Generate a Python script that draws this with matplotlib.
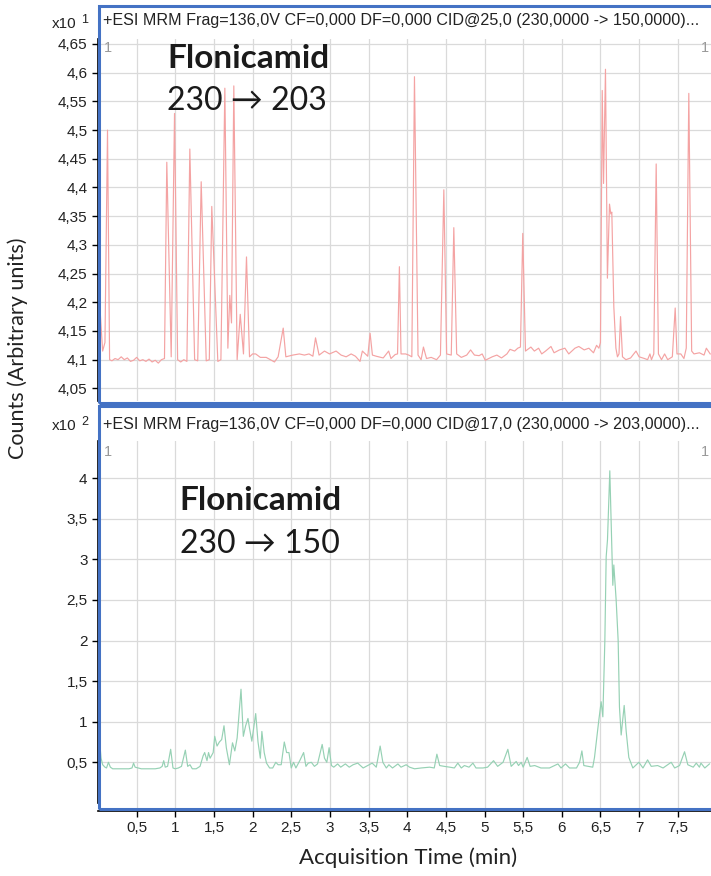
import matplotlib
matplotlib.use("Agg")
import matplotlib.pyplot as plt
from matplotlib.patches import Rectangle

# ---------------- data ----------------
top_time = [0.00, 0.03, 0.06, 0.09, 0.123, 0.15, 0.18, 0.22, 0.26, 0.30, 0.34, 0.38, 0.42, 0.46,
            0.50, 0.54, 0.58, 0.62, 0.66, 0.70, 0.74, 0.78, 0.82, 0.86, 0.890, 0.947, 0.990, 1.03,
            1.07, 1.11, 1.15, 1.188, 1.25, 1.29, 1.335, 1.40, 1.44, 1.472, 1.55, 1.59, 1.641, 1.68,
            1.705, 1.727, 1.757, 1.80, 1.84, 1.882, 1.921, 1.96, 2.00, 2.04, 2.10, 2.176, 2.283,
            2.33, 2.396, 2.43, 2.52, 2.605, 2.67, 2.73, 2.78, 2.814, 2.86, 2.93, 2.995, 3.08,
            3.145, 3.21, 3.275, 3.33, 3.39, 3.42, 3.46, 3.49, 3.52, 3.55, 3.60, 3.69, 3.76, 3.79,
            3.845, 3.875, 3.899, 3.92, 3.98, 4.02, 4.06, 4.094, 4.14, 4.18, 4.21, 4.25, 4.31, 4.38,
            4.43, 4.474, 4.51, 4.57, 4.603, 4.64, 4.70, 4.77, 4.82, 4.87, 4.93, 4.97, 5.01, 5.10,
            5.16, 5.22, 5.29, 5.33, 5.39, 5.43, 5.465, 5.495, 5.53, 5.60, 5.645, 5.70, 5.74, 5.79,
            5.86, 5.90, 5.97, 6.04, 6.09, 6.17, 6.22, 6.29, 6.35, 6.41, 6.45, 6.48, 6.50, 6.523,
            6.54, 6.565, 6.59, 6.617, 6.634, 6.647, 6.673, 6.70, 6.72, 6.74, 6.76, 6.785, 6.83,
            6.89, 6.96, 7.00, 7.07, 7.11, 7.14, 7.16, 7.19, 7.221, 7.25, 7.29, 7.33, 7.37, 7.43,
            7.467, 7.49, 7.54, 7.58, 7.61, 7.643, 7.68, 7.71, 7.78, 7.84, 7.87, 7.92]
top_counts = [4.16, 4.18, 4.115, 4.13, 4.50, 4.10, 4.098, 4.102, 4.100, 4.105, 4.100, 4.103, 4.097,
              4.099, 4.104, 4.098, 4.100, 4.097, 4.101, 4.096, 4.099, 4.094, 4.100, 4.102, 4.444,
              4.105, 4.529, 4.100, 4.096, 4.100, 4.097, 4.467, 4.100, 4.098, 4.410, 4.098, 4.100,
              4.367, 4.097, 4.100, 4.573, 4.120, 4.212, 4.164, 4.577, 4.100, 4.179, 4.110, 4.279,
              4.105, 4.110, 4.110, 4.104, 4.104, 4.096, 4.105, 4.155, 4.105, 4.108, 4.110, 4.108,
              4.110, 4.106, 4.138, 4.108, 4.115, 4.110, 4.115, 4.108, 4.105, 4.110, 4.106, 4.097,
              4.115, 4.110, 4.106, 4.146, 4.108, 4.106, 4.103, 4.115, 4.102, 4.109, 4.110, 4.262,
              4.110, 4.110, 4.108, 4.105, 4.593, 4.108, 4.100, 4.122, 4.102, 4.104, 4.100, 4.108,
              4.396, 4.110, 4.108, 4.330, 4.110, 4.104, 4.108, 4.117, 4.108, 4.107, 4.110, 4.099,
              4.105, 4.108, 4.103, 4.110, 4.118, 4.115, 4.120, 4.122, 4.320, 4.115, 4.122, 4.115,
              4.120, 4.110, 4.115, 4.123, 4.112, 4.117, 4.120, 4.110, 4.120, 4.123, 4.117, 4.120,
              4.112, 4.125, 4.120, 4.130, 4.569, 4.407, 4.606, 4.242, 4.371, 4.354, 4.357, 4.192,
              4.120, 4.105, 4.110, 4.175, 4.105, 4.100, 4.103, 4.115, 4.105, 4.102, 4.100, 4.110,
              4.100, 4.110, 4.441, 4.110, 4.100, 4.110, 4.100, 4.105, 4.190, 4.110, 4.110, 4.102,
              4.120, 4.564, 4.115, 4.110, 4.112, 4.108, 4.120, 4.110]

bot_time = [0.00, 0.02, 0.04, 0.06, 0.09, 0.11, 0.135, 0.16, 0.19, 0.25, 0.32, 0.40, 0.44, 0.46,
            0.48, 0.52, 0.56, 0.62, 0.68, 0.74, 0.80, 0.83, 0.85, 0.87, 0.90, 0.94, 0.97, 1.00,
            1.04, 1.08, 1.13, 1.16, 1.19, 1.22, 1.27, 1.32, 1.36, 1.38, 1.41, 1.43, 1.45, 1.49,
            1.51, 1.54, 1.57, 1.60, 1.63, 1.66, 1.70, 1.74, 1.77, 1.80, 1.85, 1.88, 1.91, 1.94,
            1.96, 1.99, 2.04, 2.07, 2.10, 2.12, 2.15, 2.18, 2.22, 2.26, 2.30, 2.33, 2.37, 2.41,
            2.44, 2.47, 2.50, 2.53, 2.56, 2.61, 2.66, 2.69, 2.72, 2.76, 2.80, 2.84, 2.90, 2.93,
            2.96, 2.99, 3.02, 3.05, 3.10, 3.14, 3.20, 3.25, 3.30, 3.36, 3.43, 3.547, 3.60, 3.65,
            3.685, 3.73, 3.763, 3.81, 3.88, 3.92, 3.987, 4.03, 4.095, 4.18, 4.29, 4.35, 4.384,
            4.42, 4.48, 4.55, 4.61, 4.655, 4.70, 4.74, 4.80, 4.85, 4.89, 4.98, 5.04, 5.117, 5.17,
            5.24, 5.302, 5.345, 5.41, 5.44, 5.475, 5.50, 5.552, 5.59, 5.65, 5.73, 5.84, 5.95,
            5.99, 6.048, 6.10, 6.19, 6.23, 6.26, 6.285, 6.34, 6.40, 6.423, 6.479, 6.509, 6.531,
            6.557, 6.574, 6.591, 6.621, 6.647, 6.66, 6.673, 6.703, 6.729, 6.746, 6.768, 6.807,
            6.833, 6.867, 6.919, 6.997, 7.05, 7.11, 7.157, 7.24, 7.31, 7.415, 7.46, 7.523, 7.588,
            7.63, 7.70, 7.74, 7.78, 7.80, 7.85, 7.91]
bot_counts = [0.72, 0.77, 0.55, 0.47, 0.44, 0.43, 0.50, 0.44, 0.42, 0.42, 0.42, 0.42, 0.43, 0.49,
              0.44, 0.43, 0.42, 0.42, 0.42, 0.42, 0.43, 0.45, 0.52, 0.44, 0.45, 0.66, 0.43, 0.42,
              0.43, 0.45, 0.65, 0.45, 0.47, 0.42, 0.42, 0.45, 0.58, 0.62, 0.52, 0.62, 0.55, 0.62,
              0.82, 0.70, 0.75, 0.78, 0.95, 0.68, 0.47, 0.74, 0.64, 0.80, 1.40, 0.82, 0.95, 1.04,
              0.92, 0.76, 1.10, 0.75, 0.55, 0.88, 0.62, 0.49, 0.43, 0.43, 0.50, 0.47, 0.47, 0.75,
              0.62, 0.62, 0.43, 0.50, 0.43, 0.52, 0.62, 0.45, 0.49, 0.50, 0.45, 0.48, 0.72, 0.55,
              0.50, 0.68, 0.46, 0.44, 0.48, 0.44, 0.48, 0.44, 0.47, 0.49, 0.43, 0.49, 0.44, 0.70,
              0.50, 0.43, 0.47, 0.43, 0.48, 0.44, 0.47, 0.44, 0.42, 0.43, 0.44, 0.43, 0.60,
              0.46, 0.45, 0.44, 0.43, 0.49, 0.43, 0.46, 0.44, 0.49, 0.43, 0.43, 0.44, 0.52, 0.45,
              0.50, 0.66, 0.45, 0.51, 0.46, 0.50, 0.44, 0.56, 0.45, 0.46, 0.43, 0.43, 0.48,
              0.43, 0.48, 0.43, 0.43, 0.50, 0.64, 0.46, 0.45, 0.44, 0.56, 1.02, 1.246, 1.06,
              2.00, 3.03, 3.24, 4.09, 3.17, 2.68, 2.93, 2.50, 2.00, 1.18, 0.836, 1.20,
              0.88, 0.56, 0.43, 0.50, 0.43, 0.53, 0.45, 0.46, 0.43, 0.50, 0.43, 0.46, 0.63,
              0.47, 0.44, 0.49, 0.44, 0.49, 0.43, 0.48]

x_ticks = [0.5, 1, 1.5, 2, 2.5, 3, 3.5, 4, 4.5, 5, 5.5, 6, 6.5, 7, 7.5]
x_tick_labels = ["0,5", "1", "1,5", "2", "2,5", "3", "3,5", "4", "4,5", "5", "5,5", "6", "6,5", "7", "7,5"]
top_y_ticks = [4.05, 4.1, 4.15, 4.2, 4.25, 4.3, 4.35, 4.4, 4.45, 4.5, 4.55, 4.6, 4.65]
top_y_labels = ["4,05", "4,1", "4,15", "4,2", "4,25", "4,3", "4,35", "4,4", "4,45", "4,5", "4,55", "4,6", "4,65"]
bot_y_ticks = [0.5, 1, 1.5, 2, 2.5, 3, 3.5, 4]
bot_y_labels = ["0,5", "1", "1,5", "2", "2,5", "3", "3,5", "4"]

top_title = "+ESI MRM Frag=136,0V CF=0,000 DF=0,000 CID@25,0 (230,0000 -> 150,0000)..."
bot_title = "+ESI MRM Frag=136,0V CF=0,000 DF=0,000 CID@17,0 (230,0000 -> 203,0000)..."
compound = "Flonicamid"
top_transition = "230 \u2192 203"
bot_transition = "230 \u2192 150"
x_label = "Acquisition Time (min)"
y_label = "Counts (Arbitrary units)"

# ---------------- layout ----------------
W, H = 711, 876
fig = plt.figure(figsize=(W / 100, H / 100), dpi=100)

def fx(px):
    return px / W

def fy(py):
    return 1 - py / H

TICK_FONT = "Liberation Sans"
LABEL_FONT = ["Lato", "DejaVu Sans"]
GRID = "#dadada"
BLUE = "#4472c4"

def style_axes(ax, yticks, ylabels, xlim, ylim, show_x):
    ax.set_xlim(*xlim)
    ax.set_ylim(*ylim)
    ax.set_xticks(x_ticks)
    ax.set_yticks(yticks)
    ax.set_yticklabels(ylabels, fontfamily=TICK_FONT, fontsize=11, color="#222222")
    if show_x:
        ax.set_xticklabels(x_tick_labels, fontfamily=TICK_FONT, fontsize=11, color="#222222")
        ax.tick_params(axis="x", length=4.5, width=1, color="black", pad=3)
    else:
        ax.tick_params(axis="x", length=0, labelbottom=False)
    ax.tick_params(axis="y", length=4.5, width=1, color="black", pad=3)
    ax.grid(True, color=GRID, linewidth=0.9)
    ax.set_axisbelow(True)
    for s in ["top", "right"]:
        ax.spines[s].set_visible(False)
    ax.spines["left"].set_color("black")
    ax.spines["left"].set_linewidth(1.2)
    if show_x:
        ax.spines["bottom"].set_color("black")
        ax.spines["bottom"].set_linewidth(1.2)
    else:
        ax.spines["bottom"].set_visible(False)

x0_px = 98.0
xlim = (0, (W - x0_px) / 77.3)

# top panel
ax1 = fig.add_axes([fx(x0_px), fy(401), 1 - fx(x0_px), (401 - 39) / H])
ax1.plot(top_time, top_counts, color="#f4a3a3", linewidth=0.85)
style_axes(ax1, top_y_ticks, top_y_labels, xlim, (4.028, 4.6587), False)

# bottom panel
ax2 = fig.add_axes([fx(x0_px), fy(811), 1 - fx(x0_px), (811 - 441) / H])
ax2.plot(bot_time, bot_counts, color="#96d1b4", linewidth=0.85)
style_axes(ax2, bot_y_ticks, bot_y_labels, xlim, (-0.0998, 4.457), True)
ax2.spines["left"].set_bounds(0.0, 4.457)

# blue selection borders
for (y0, y1) in [(6, 403), (406, 809)]:
    fig.patches.append(Rectangle((fx(99), fy(y1)), 1.2, (y1 - y0) / H,
                                 transform=fig.transFigure, fill=False,
                                 edgecolor=BLUE, linewidth=2.2, zorder=10))

# titles
fig.text(fx(103), fy(20), top_title, fontfamily=TICK_FONT, fontsize=11.6, color="#222222",
         ha="left", va="center")
fig.text(fx(103), fy(424), bot_title, fontfamily=TICK_FONT, fontsize=11.6, color="#222222",
         ha="left", va="center")

# scale multipliers
for (yy, p) in [(24, "1"), (426, "2")]:
    fig.text(fx(76), fy(yy), "x10", fontfamily=TICK_FONT, fontsize=11, color="#222222",
             ha="right", va="center")
    fig.text(fx(81), fy(yy - 4), p, fontfamily=TICK_FONT, fontsize=9, color="#222222",
             ha="left", va="center")

# corner markers
for yy in [48, 452]:
    fig.text(fx(104), fy(yy), "1", fontfamily=TICK_FONT, fontsize=10.5, color="#999999",
             ha="left", va="center")
    fig.text(fx(701), fy(yy), "1", fontfamily=TICK_FONT, fontsize=10.5, color="#999999",
             ha="left", va="center")

# annotations
fig.text(fx(248), fy(59), compound, fontfamily=LABEL_FONT, fontweight="bold", fontsize=24,
         color="#1a1a1a", ha="center", va="center")
fig.text(fx(247), fy(101), top_transition, fontfamily=LABEL_FONT, fontsize=23,
         color="#1a1a1a", ha="center", va="center")
fig.text(fx(260), fy(501), compound, fontfamily=LABEL_FONT, fontweight="bold", fontsize=24,
         color="#1a1a1a", ha="center", va="center")
fig.text(fx(260), fy(544), bot_transition, fontfamily=LABEL_FONT, fontsize=23,
         color="#1a1a1a", ha="center", va="center")

# axis labels
fig.text(fx(408), fy(858), x_label, fontfamily=LABEL_FONT, fontsize=16, color="#222222",
         ha="center", va="center")
fig.text(fx(18), fy(348), y_label, fontfamily=LABEL_FONT, fontsize=15.5, color="#222222",
         ha="center", va="center", rotation=90)

fig.savefig("out.png", dpi=100)
